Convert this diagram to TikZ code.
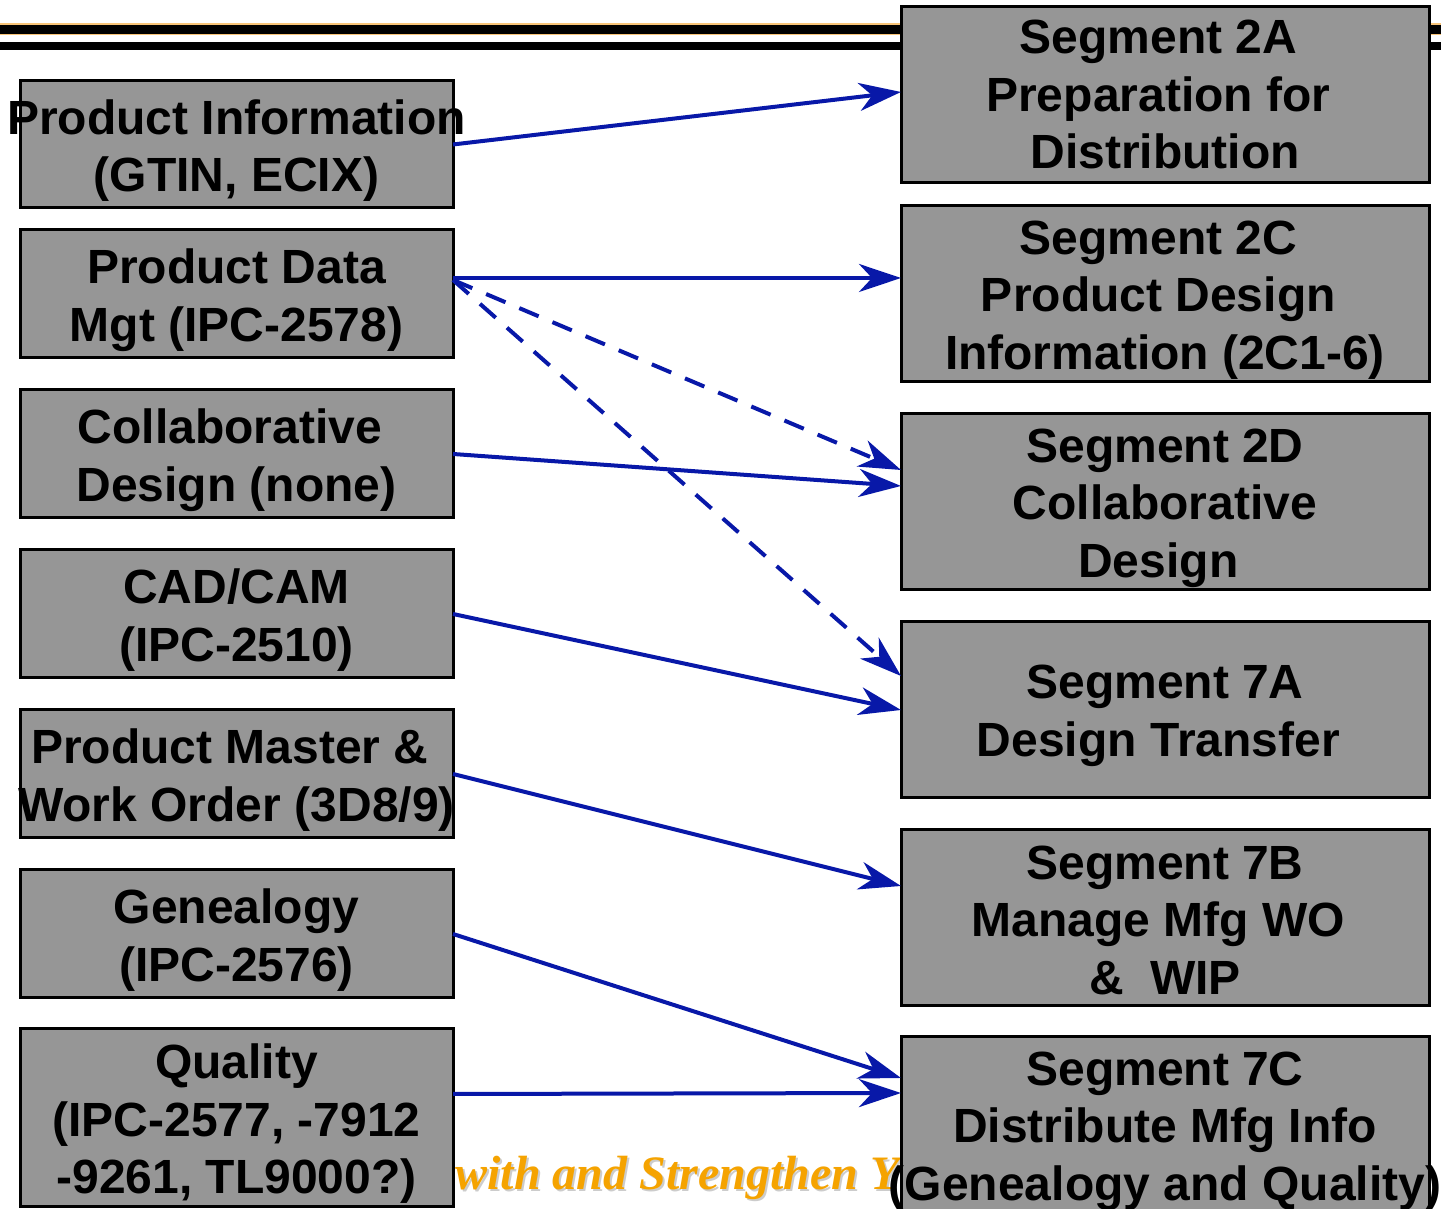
\documentclass[tikz,border=0pt]{standalone}
\usepackage{fontspec}
\setmainfont{Liberation Sans}
\newfontfamily\mottofont{Liberation Serif}
\usetikzlibrary{arrows.meta}
\definecolor{boxgray}{RGB}{150,150,150}
\definecolor{linkblue}{RGB}{8,24,168}
\definecolor{barorange}{RGB}{248,196,120}
\definecolor{mottoorange}{RGB}{245,163,0}
% trailing blank left at the end of a line
\newcommand\trail{\kern6.67pt}

\begin{document}
\begin{tikzpicture}[x=0.5pt,y=0.5pt,
  box/.style={draw=black,line width=1.5pt,fill=boxgray,outer sep=0pt,inner sep=0pt},
  src/.style={box,minimum width=216.5pt,minimum height=64pt},
  seg/.style={box,minimum width=264pt,minimum height=88pt},
  boxtext/.style={inner sep=0pt,yshift=-3pt,align=center,font=\fontsize{24}{28.75}\selectfont\bfseries},
  link/.style={draw=linkblue,line width=2pt,-{Stealth[length=21pt,width=14pt,inset=6.5pt]}},
  maybe/.style={link,dash pattern=on 10.5pt off 7.5pt},
  motto/.style={anchor=base west,inner sep=0pt,font=\mottofont\fontsize{24}{28}\selectfont\bfseries\itshape}]
\path[use as bounding box] (0,0) rectangle (1441,1209);
% header bars
\fill[barorange] (0,1173.5) rectangle (1441,1185.5);
\fill[black] (0,1175) rectangle (1441,1184);
\fill[black] (0,1159) rectangle (1441,1167);
% footer motto, mostly hidden by the boxes
\node[motto,text=gray!40] (mottoshade) at (457,17) {with and Strengthen Y};
\node[motto,text=mottoorange] (motto) at (455,19) {with and Strengthen Y};
% sources
\node[src,minimum height=63.5pt,label={[boxtext]center:Product Information\\(GTIN, ECIX)}] (pinfo) at (236.5,1064.5) {};
\node[src,label={[boxtext]center:Product Data\\Mgt (IPC-2578)}] (pdata) at (236.5,915) {};
\node[src,label={[boxtext]center:Collaborative\trail\\Design (none)}] (collab) at (236.5,755) {};
\node[src,label={[boxtext]center:CAD/CAM\\(IPC-2510)}] (cadcam) at (236.5,595) {};
\node[src,label={[boxtext]center:Product Master \&\trail\\Work Order (3D8/9)}] (pmaster) at (236.5,435) {};
\node[src,label={[boxtext]center:Genealogy\\(IPC-2576)}] (geneal) at (236.5,275) {};
\node[src,minimum height=89pt,label={[boxtext]center:Quality\\(IPC-2577, -7912\\-9261, TL9000?)}] (quality) at (236.5,91) {};
% segments
\node[seg,label={[boxtext,yshift=3pt]center:Segment 2A\trail\\Preparation for\trail\\Distribution}] (seg2a) at (1165,1114.5) {};
\node[seg,label={[boxtext]center:Segment 2C\trail\\Product Design\trail\\Information (2C1-6)}] (seg2c) at (1165,915) {};
\node[seg,label={[boxtext]center:Segment 2D\\Collaborative\\Design\trail}] (seg2d) at (1165,707) {};
\node[seg,label={[boxtext]center:Segment 7A\\Design Transfer\trail}] (seg7a) at (1165,499) {};
\node[seg,label={[boxtext,yshift=2pt]center:Segment 7B\\Manage Mfg WO\trail\\\&\ \ WIP}] (seg7b) at (1165,291) {};
\node[seg,label={[boxtext]center:Segment 7C\\Distribute Mfg Info\\(Genealogy and Quality)}] (seg7c) at (1165,84) {};
% links
\draw[link] (pinfo.east) -- ([yshift=1.25pt]seg2a.west);
\draw[link] ([yshift=8pt]pdata.east) -- ([yshift=8pt]seg2c.west);
\draw[maybe] ([yshift=7pt]pdata.east) -- ([yshift=16pt]seg2d.west);
\draw[maybe] ([yshift=7pt]pdata.east) -- ([yshift=17pt]seg7a.west);
\draw[link] (collab.east) -- ([yshift=8pt]seg2d.west);
\draw[link] (cadcam.east) -- (seg7a.west);
\draw[link] (pmaster.east) -- ([yshift=16pt]seg7b.west);
\draw[link] (geneal.east) -- ([yshift=23.5pt]seg7c.west);
\draw[link] ([yshift=12pt]quality.east) -- ([yshift=16pt]seg7c.west);
\end{tikzpicture}
\end{document}
